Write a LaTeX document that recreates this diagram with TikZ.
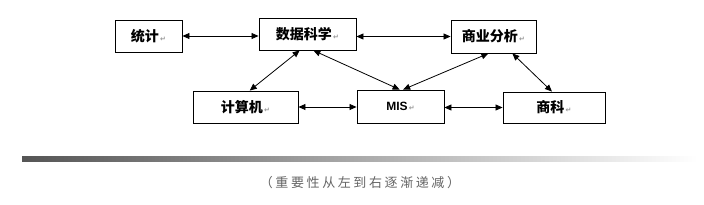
\documentclass[tikz,border=0pt]{standalone}
\usepackage{fontspec}
\usetikzlibrary{arrows.meta,calc}
\newfontfamily\cjk{Noto Sans CJK SC}
\newfontfamily\cjkcap{Noto Sans CJK SC}[LetterSpace=20]
\newfontfamily\latn{Liberation Sans}
\newfontfamily\symb{DejaVu Sans}
\definecolor{capgray}{RGB}{100,100,100}
\definecolor{markgray}{RGB}{150,150,150}
\definecolor{bardark}{RGB}{85,85,85}
\newcommand{\pmark}{{\symb\fontsize{7}{8}\selectfont\color{markgray}\,↵}}
\tikzset{
  box/.style={draw=black, line width=0.9pt, fill=white, inner sep=0pt,
    font=\cjk\bfseries\fontsize{14}{16}\selectfont},
  link/.style={line width=0.8pt, {Triangle[length=7pt,width=6pt]}-{Triangle[length=7pt,width=6pt]}}
}
\begin{document}
\begin{tikzpicture}[x=1pt,y=-1pt]
\useasboundingbox (0,0) rectangle (704,204);
\node[box, minimum width=67pt, minimum height=32pt] (tongji) at (148.5,36) {统计\pmark};
\node[box, minimum width=97pt, minimum height=32pt] (shuju) at (307.5,34) {数据科学\pmark};
\node[box, minimum width=85pt, minimum height=33pt] (shangye) at (493.5,36.5) {商业分析\pmark};
\node[box, minimum width=105pt, minimum height=32pt] (jisuanji) at (245.5,107) {计算机\pmark};
\node[box, minimum width=87pt, minimum height=33pt] (mis) at (400.5,106.5) {{\latn\bfseries\fontsize{12}{14}\selectfont MIS}\pmark};
\node[box, minimum width=102pt, minimum height=31pt] (shangke) at (554,107.5) {商科\pmark};
% horizontal links
\draw[link] (tongji.east) -- (tongji.east -| shuju.west);
\draw[link] (shuju.east |- shangye.west) -- (shangye.west);
\draw[link] (jisuanji.east) -- (jisuanji.east -| mis.west);
\draw[link] (mis.east |- shangke.west) -- (shangke.west);
% diagonal links
\draw[link] ($(shuju.south west)!0.42!(shuju.south east)$) -- ($(jisuanji.north west)!0.54!(jisuanji.north east)$);
\draw[link] ($(shuju.south west)!0.56!(shuju.south east)$) -- ($(mis.north west)!0.49!(mis.north east)$);
\draw[link] ($(shangye.south west)!0.44!(shangye.south east)$) -- ($(mis.north west)!0.53!(mis.north east)$);
\draw[link] ($(shangye.south west)!0.72!(shangye.south east)$) -- ($(shangke.north west)!0.48!(shangke.north east)$);
% gradient bar
\shade[left color=bardark, right color=white] (22,156) rectangle (697,161);
\node[font=\cjkcap\fontsize{13}{15}\selectfont, text=capgray, inner sep=0pt] (cap) at (360,183) {（重要性从左到右逐渐递减）};
\end{tikzpicture}
\end{document}
